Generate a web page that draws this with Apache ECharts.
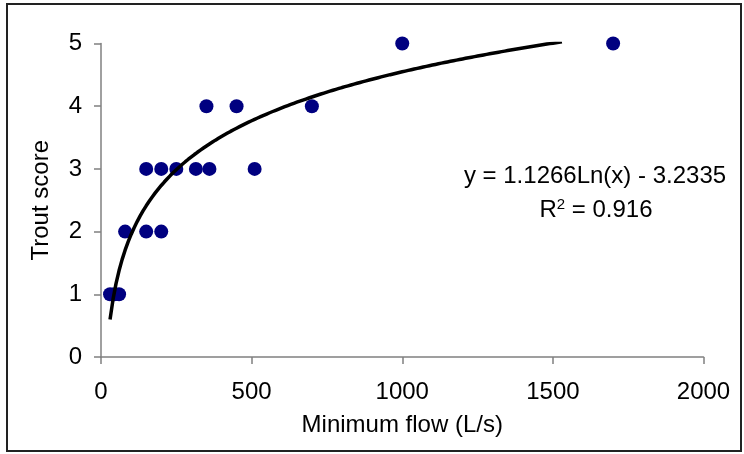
<!DOCTYPE html>
<html>
<head>
<meta charset="utf-8">
<script src="https://cdn.jsdelivr.net/npm/echarts@6/dist/echarts.min.js"></script>
<style>html,body{margin:0;padding:0;background:#fff}#c{width:744px;height:454px}</style>
</head>
<body>
<div id="c"></div>
<script>
// Observed data (minimum flow L/s, trout score)
var flowValues  = [30, 45, 60, 80, 150, 200, 150, 200, 250, 315, 360, 510, 350, 450, 700, 1000, 1700];
var scoreValues = [1, 1, 1, 2, 2, 2, 3, 3, 3, 3, 3, 3, 4, 4, 4, 5, 5];
// Logarithmic trendline as printed on the chart: y = a*Ln(x) + b
var trendCoefA = 1.1266;
var trendCoefB = -3.2335;
var trendStartX = 30;
var trendEndX = 1530;
var xTicks = [0, 500, 1000, 1500, 2000];
var yTicks = [0, 1, 2, 3, 4, 5];
var equationText = 'y = 1.1266Ln(x) - 3.2335';
var r2Value = '0.916';

var scatterData = flowValues.map(function (x, i) { return [x, scoreValues[i]]; });
var trendData = [];
for (var x = trendStartX; x <= trendEndX; x += 10) {
  trendData.push([x, trendCoefA * Math.log(x) + trendCoefB]);
}

var FONT = '"Liberation Sans", Arial, sans-serif';
var FS = 24;
var chart = echarts.init(document.getElementById('c'), null, {renderer: 'canvas'});
chart.setOption({
  animation: false,
  backgroundColor: '#fff',
  grid: {left: 101, right: 40.5, top: 43.5, bottom: 97, containLabel: false},
  xAxis: {
    type: 'value', min: xTicks[0], max: xTicks[xTicks.length - 1], interval: 500,
    name: 'Minimum flow (L/s)', nameLocation: 'middle', nameGap: 56,
    nameTextStyle: {fontFamily: FONT, fontSize: FS, color: '#000'},
    axisLine: {onZero: false, lineStyle: {color: '#808080', width: 1.5}},
    axisTick: {show: true, inside: false, length: 7, lineStyle: {color: '#808080', width: 1.5}},
    axisLabel: {fontFamily: FONT, fontSize: FS, color: '#000', margin: 23,
                formatter: function (v) { return String(v); }},
    splitLine: {show: false}
  },
  yAxis: {
    type: 'value', min: yTicks[0], max: yTicks[yTicks.length - 1], interval: 1,
    name: 'Trout score', nameLocation: 'middle', nameGap: 48,
    nameTextStyle: {fontFamily: FONT, fontSize: FS, color: '#000'},
    axisLine: {show: true, onZero: false, lineStyle: {color: '#808080', width: 1.5}},
    axisTick: {show: true, inside: false, length: 7, lineStyle: {color: '#808080', width: 1.5}},
    axisLabel: {fontFamily: FONT, fontSize: FS, color: '#000', margin: 19,
                formatter: function (v) { return String(v); }},
    splitLine: {show: false}
  },
  series: [
    {
      type: 'scatter', data: scatterData, symbol: 'circle', symbolSize: 14,
      itemStyle: {color: '#000080', opacity: 1}, z: 2
    },
    {
      type: 'line', data: trendData, showSymbol: false, symbol: 'none', clip: true,
      lineStyle: {color: '#000', width: 3.5}, z: 3
    }
  ],
  graphic: [
    {
      type: 'rect', shape: {x: 7, y: 4, width: 734, height: 447},
      style: {fill: 'none', stroke: '#222', lineWidth: 2}, silent: true
    },
    {
      type: 'text', x: 595, y: 176,
      style: {text: equationText, fontFamily: FONT, fontSize: FS, fill: '#000',
              align: 'center', verticalAlign: 'middle'}
    },
    {
      type: 'text', x: 596, y: 210,
      style: {
        text: '{n|R}{s|2}{n| = ' + r2Value + '}',
        align: 'center', verticalAlign: 'middle',
        rich: {
          n: {fontFamily: FONT, fontSize: FS, fill: '#000', color: '#000', lineHeight: 26},
          s: {fontFamily: FONT, fontSize: 15, fill: '#000', color: '#000', verticalAlign: 'top', lineHeight: 26, padding: [0, 0, 10, 0]}
        }
      }
    }
  ]
});
</script>
</body>
</html>
